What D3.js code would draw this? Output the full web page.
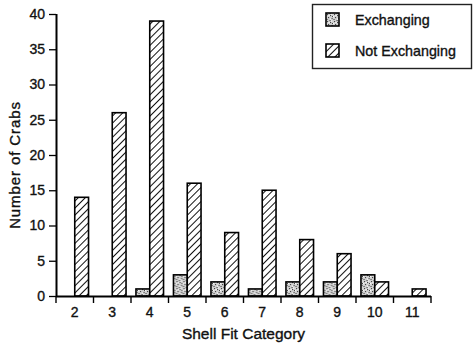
<!DOCTYPE html>
<html>
<head>
<meta charset="utf-8">
<script src="https://cdn.jsdelivr.net/npm/d3@7"></script>
<style>
  html, body { margin: 0; padding: 0; background: #fff; }
  svg { display: block; font-family: "Liberation Sans", Arial, Helvetica, sans-serif; }
  svg text { stroke: #111; stroke-width: 0.35px; }
</style>
</head>
<body>
<svg id="chart" width="473" height="347"></svg>
<script>
// Shell fit categories and crab counts per group
const categories = ["2", "3", "4", "5", "6", "7", "8", "9", "10", "11"];
const seriesNames = ["Exchanging", "Not Exchanging"];
const exchanging = [0, 0, 1, 3, 2, 1, 2, 2, 3, 0];
const notExchanging = [14, 26, 39, 16, 9, 15, 8, 6, 2, 1];
const yTicks = [0, 5, 10, 15, 20, 25, 30, 35, 40];

const svg = d3.select("#chart");
const plotLeft = 56, plotRight = 431, plotTop = 14, plotBottom = 296;

const defs = svg.append("defs");

// diagonal hatching for the "Not Exchanging" bars
const hatch = defs.append("pattern")
  .attr("id", "hatch")
  .attr("patternUnits", "userSpaceOnUse")
  .attr("width", 5).attr("height", 5)
  .attr("patternTransform", "rotate(45)");
hatch.append("rect").attr("width", 5).attr("height", 5).attr("fill", "#fff");
hatch.append("line")
  .attr("x1", 0).attr("y1", 0).attr("x2", 0).attr("y2", 5)
  .attr("stroke", "#111").attr("stroke-width", 2);

// stippled grey fill for the "Exchanging" bars
const stipple = defs.append("pattern")
  .attr("id", "stipple")
  .attr("patternUnits", "userSpaceOnUse")
  .attr("width", 7).attr("height", 7);
stipple.append("rect").attr("width", 7).attr("height", 7).attr("fill", "#cfcfcf");
const dots = [[1, 1], [4, 2], [2, 4], [5.5, 5], [0.5, 6], [3.5, 0], [6, 3]];
stipple.selectAll("rect.d").data(dots).enter().append("rect")
  .attr("class", "d")
  .attr("x", d => d[0]).attr("y", d => d[1])
  .attr("width", 1.1).attr("height", 1.1)
  .attr("fill", "#444");
const lightDots = [[2.5, 2], [5, 0.5], [0, 3], [4, 5.5]];
stipple.selectAll("rect.l").data(lightDots).enter().append("rect")
  .attr("class", "l")
  .attr("x", d => d[0]).attr("y", d => d[1])
  .attr("width", 1.2).attr("height", 1.2)
  .attr("fill", "#fafafa");

const fills = { "Exchanging": "url(#stipple)", "Not Exchanging": "url(#hatch)" };

const x0 = d3.scaleBand().domain(categories).range([plotLeft, plotRight]).paddingInner(0).paddingOuter(0);
const x1 = d3.scaleBand().domain(seriesNames).range([0, x0.bandwidth()]).paddingInner(0).paddingOuter(0.36);
const y = d3.scaleLinear().domain([0, 40]).range([plotBottom, plotTop]);

const rows = categories.map((c, i) => ({
  cat: c,
  values: [
    { name: "Exchanging", value: exchanging[i] },
    { name: "Not Exchanging", value: notExchanging[i] }
  ]
}));

// bars
const groups = svg.append("g").selectAll("g")
  .data(rows).enter().append("g")
  .attr("transform", d => `translate(${x0(d.cat)},0)`);

groups.selectAll("rect")
  .data(d => d.values.filter(v => v.value > 0))
  .enter().append("rect")
  .attr("x", d => x1(d.name))
  .attr("y", d => y(d.value))
  .attr("width", x1.bandwidth())
  .attr("height", d => y(0) - y(d.value))
  .attr("fill", d => fills[d.name])
  .attr("stroke", "#000")
  .attr("stroke-width", 1.6);

// y axis
const yAxis = svg.append("g")
  .attr("transform", `translate(${plotLeft},0)`)
  .call(d3.axisLeft(y).tickValues(yTicks).tickSize(7).tickPadding(4));
yAxis.select(".domain").attr("stroke-width", 2).attr("d", `M0.5,${plotTop}V${plotBottom}`);
yAxis.selectAll(".tick line").attr("stroke-width", 1.3);
yAxis.selectAll(".tick text")
  .attr("font-size", 14).attr("fill", "#111")
  .attr("font-family", "'Liberation Sans', Arial, sans-serif");

// x axis: labels centered in each category, ticks at category boundaries
const xAxis = svg.append("g")
  .attr("transform", `translate(0,${plotBottom})`)
  .call(d3.axisBottom(x0).tickSize(0).tickPadding(11));
xAxis.select(".domain").attr("stroke-width", 2).attr("d", `M${plotLeft},0.5H${plotRight}`);
xAxis.selectAll(".tick text")
  .attr("font-size", 14).attr("fill", "#111")
  .attr("font-family", "'Liberation Sans', Arial, sans-serif");

const boundaries = categories.map(c => x0(c)).concat([x0.range()[1]]);
xAxis.selectAll("line.bound")
  .data(boundaries).enter().append("line")
  .attr("class", "bound")
  .attr("x1", d => d).attr("x2", d => d)
  .attr("y1", 0).attr("y2", 7)
  .attr("stroke", "#000").attr("stroke-width", 1.4);

// axis titles
svg.append("text")
  .attr("x", (plotLeft + plotRight) / 2)
  .attr("y", 339)
  .attr("text-anchor", "middle")
  .attr("font-size", 15.5)
  .attr("fill", "#111")
  .text("Shell Fit Category");

svg.append("text")
  .attr("transform", `translate(20,165) rotate(-90)`)
  .attr("text-anchor", "middle")
  .attr("font-size", 15)
  .attr("letter-spacing", 0.9)
  .attr("fill", "#111")
  .text("Number of Crabs");

// legend
const legend = svg.append("g");
legend.append("rect")
  .attr("x", 312.5).attr("y", 4.5)
  .attr("width", 159).attr("height", 64)
  .attr("fill", "#fff").attr("stroke", "#222").attr("stroke-width", 1.4);

const items = legend.selectAll("g.item")
  .data(seriesNames).enter().append("g")
  .attr("class", "item")
  .attr("transform", (d, i) => `translate(326,${13 + i * 31})`);
items.append("rect")
  .attr("width", 13).attr("height", 13)
  .attr("fill", d => fills[d])
  .attr("stroke", "#000").attr("stroke-width", 1.6);
items.append("text")
  .attr("x", 29).attr("y", 12)
  .attr("font-size", 14.3)
  .attr("fill", "#111")
  .text(d => d);
</script>
</body>
</html>
